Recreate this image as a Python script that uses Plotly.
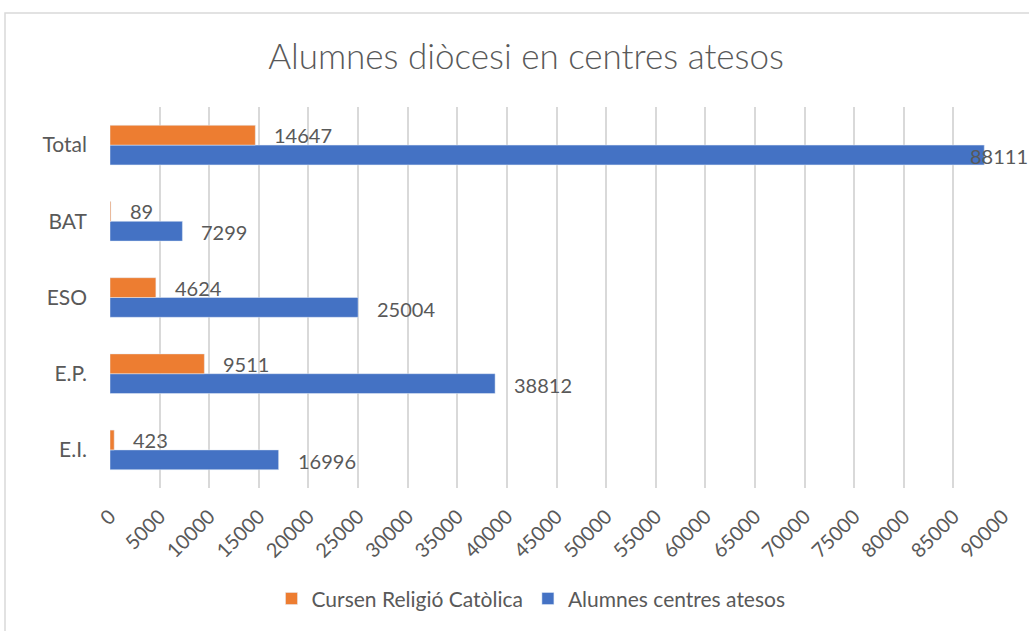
import plotly.graph_objects as go

categories = ["E.I.", "E.P.", "ESO", "BAT", "Total"]
alumnes = [16996, 38812, 25004, 7299, 88111]
religio = [423, 9511, 4624, 89, 14647]
series_names = ["Alumnes centres atesos", "Cursen Religió Catòlica"]
x_ticks = list(range(0, 90001, 5000))

BLUE = "#4472C4"
ORANGE = "#ED7D31"
TXT = "#595959"
FONT = "Lato"

W, H = 1029, 631
L, R, T, B = 110, 26, 107, 139
pw, ph = W - L - R, H - T - B

fig = go.Figure()
fig.add_trace(go.Bar(y=categories, x=alumnes, orientation="h", name=series_names[0],
                     marker=dict(color=BLUE), width=0.26))
fig.add_trace(go.Bar(y=categories, x=religio, orientation="h", name=series_names[1],
                     marker=dict(color=ORANGE), width=0.26))

xmax = 90000
annots = []
for vals, yshift in ((alumnes, -11), (religio, 10)):
    for c, v in zip(categories, vals):
        xs = 17 if v < 0.95 * xmax else -16
        annots.append(dict(x=v, y=c, xref="x", yref="y", text=str(v), showarrow=False,
                           xanchor="left", yanchor="middle", xshift=xs, yshift=yshift,
                           font=dict(family=FONT, size=20, color=TXT)))

def px_x(p):
    return (p - L) / pw

def px_y(p):
    return (H - B - p) / ph

fig.update_layout(
    width=W, height=H,
    margin=dict(l=L, r=R, t=T, b=B),
    paper_bgcolor="white", plot_bgcolor="white",
    barmode="group", bargap=0.48,
    title=dict(text="Alumnes diòcesi en centres atesos", x=(526) / W, xanchor="center",
               y=1 - 57 / H, yanchor="middle",
               font=dict(family=FONT, size=35, color=TXT, weight=300)),
    xaxis=dict(range=[0, xmax], tickvals=x_ticks, ticktext=[str(t) for t in x_ticks],
               tickangle=-45, showgrid=True, gridcolor="#D9D9D9", gridwidth=1.5,
               zeroline=False, showline=False, ticks="", ticklabelstandoff=12,
               tickfont=dict(family=FONT, size=20, color=TXT)),
    yaxis=dict(showgrid=False, showline=False, ticks="", ticklabelstandoff=22,
               tickfont=dict(family=FONT, size=21, color=TXT)),
    legend=dict(orientation="h", traceorder="reversed", x=px_x(531), xanchor="center",
                y=px_y(604), yanchor="middle", font=dict(family=FONT, size=21, color=TXT),
                itemwidth=30),
    annotations=annots,
    shapes=[dict(type="rect", xref="paper", yref="paper", x0=px_x(5), x1=px_x(1040),
                 y0=px_y(650), y1=px_y(12), line=dict(color="#D9D9D9", width=1.5),
                 fillcolor="rgba(0,0,0,0)", layer="below")],
    showlegend=True,
)

fig.write_html("out.html")
